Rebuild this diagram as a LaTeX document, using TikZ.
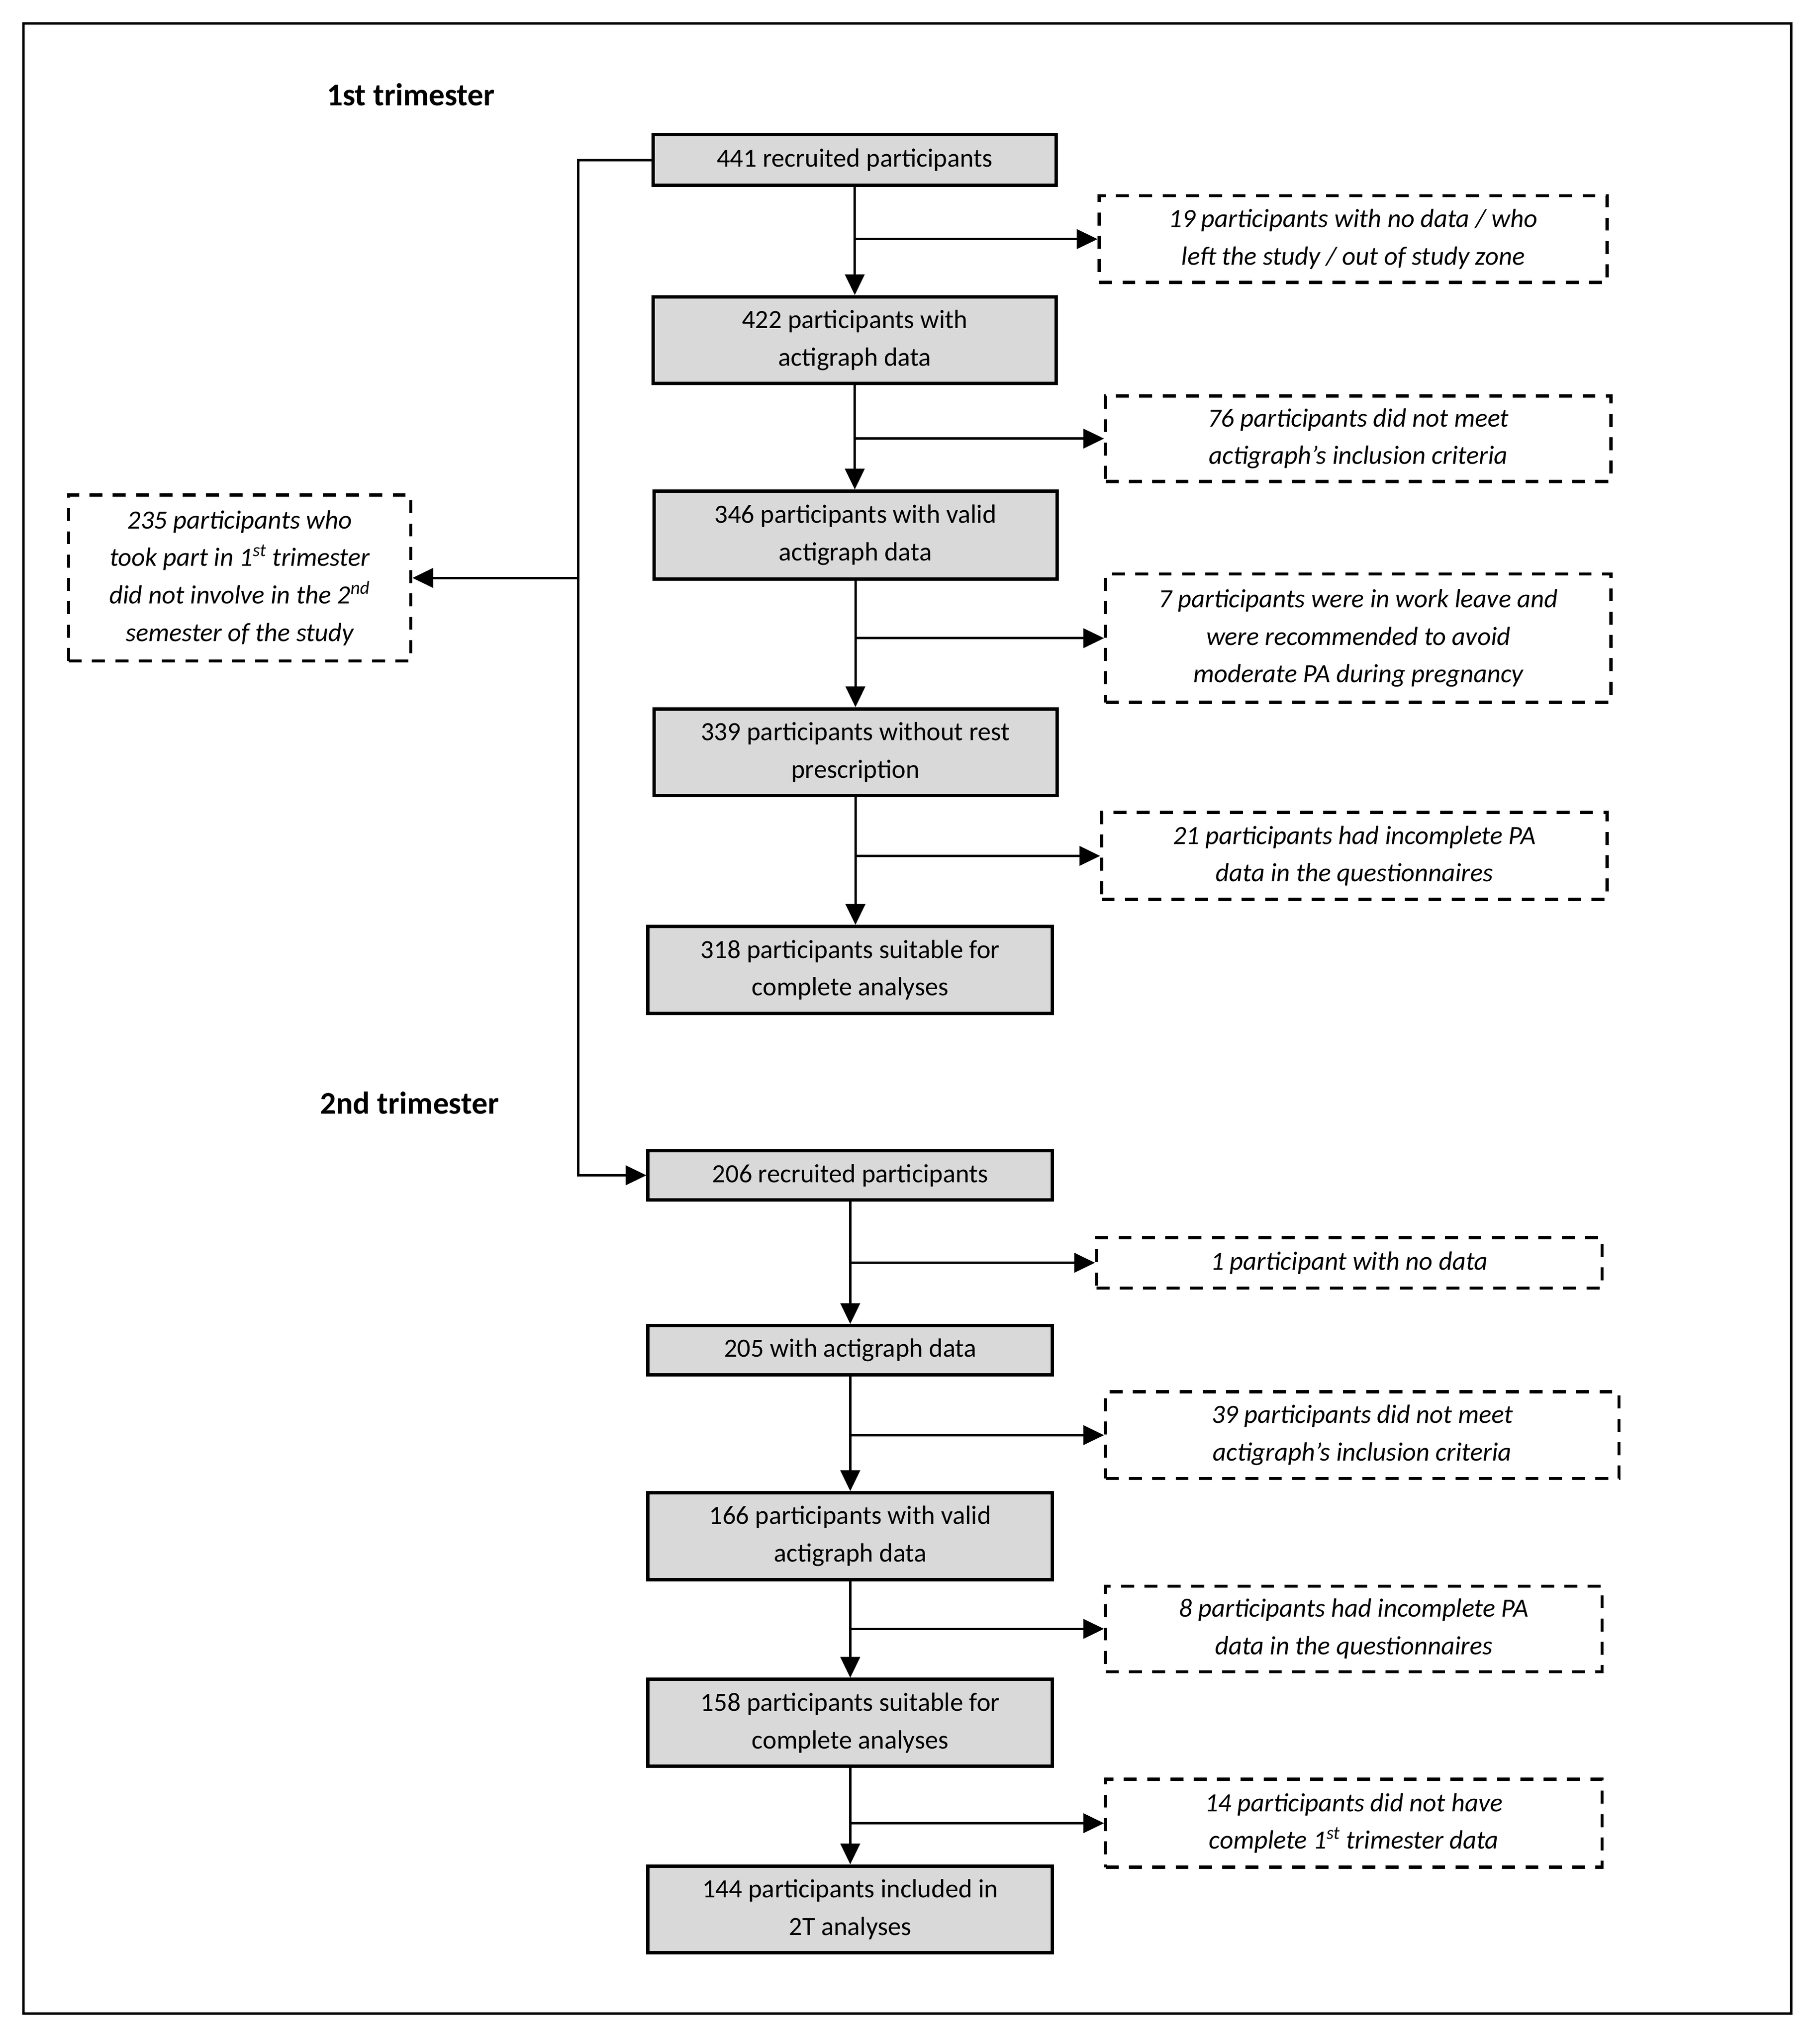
\documentclass[tikz,border=0pt]{standalone}
\usepackage{fontspec}
\setmainfont{Carlito}
\usetikzlibrary{arrows.meta}
\definecolor{boxgray}{HTML}{D9D9D9}
\begin{document}
\begin{tikzpicture}[x=1pt,y=-1pt,
  bodyfont/.style={font=\fontsize{20.3}{29}\selectfont},
  mainbox/.style={draw, line width=2.6pt, fill=boxgray, inner sep=0pt, align=center, bodyfont},
  dbox/.style={draw, line width=2.4pt, dash pattern=on 10pt off 8pt, fill=white, inner sep=0pt, align=center, font=\fontsize{20.3}{29}\selectfont\itshape},
  head/.style={font=\fontsize{24.4}{29}\selectfont\bfseries, inner sep=0pt},
  conn/.style={line width=1.8pt, -{Triangle[length=16pt,width=15pt]}},
  plain/.style={line width=1.8pt}
]
\useasboundingbox (0,0) rectangle (1404,1572);
\draw[line width=1.8pt] (18,18) rectangle (1382,1554);

\node[head] (h1) at (317,73) {1st trimester};
\node[head] (h2) at (316,851) {2nd trimester};

% main boxes, first trimester
\node[mainbox, minimum width=311pt, minimum height=39pt] (b1) at (659.5,123.5) {441 recruited participants};
\node[mainbox, minimum width=311pt, minimum height=67pt] (b2) at (659.5,262.5) {422 participants with\\actigraph data};
\node[mainbox, minimum width=311pt, minimum height=68pt] (b3) at (660,413) {346 participants with valid\\actigraph data};
\node[mainbox, minimum width=311pt, minimum height=67pt] (b4) at (660,580.5) {339 participants without rest\\prescription};
\node[mainbox, minimum width=312pt, minimum height=67pt] (b5) at (656,748.5) {318 participants suitable for\\complete analyses};
% second trimester
\node[mainbox, minimum width=312pt, minimum height=38pt] (b6) at (656,907) {206 recruited participants};
\node[mainbox, minimum width=312pt, minimum height=38pt] (b7) at (656,1042) {205 with actigraph data};
\node[mainbox, minimum width=312pt, minimum height=67pt] (b8) at (656,1185.5) {166 participants with valid\\actigraph data};
\node[mainbox, minimum width=312pt, minimum height=67pt] (b9) at (656,1329.5) {158 participants suitable for\\complete analyses};
\node[mainbox, minimum width=312pt, minimum height=67pt] (b10) at (656,1473.5) {144 participants included in\\2T analyses};

% dashed boxes
\node[dbox, minimum width=392pt, minimum height=67pt] (d1) at (1044,184.5) {19 participants with no data / who\\left the study / out of study zone};
\node[dbox, minimum width=390pt, minimum height=66pt] (d2) at (1048,338.5) {76 participants did not meet\\actigraph’s inclusion criteria};
\node[dbox, minimum width=390pt, minimum height=99pt] (d3) at (1048,492.5) {7 participants were in work leave and\\were recommended to avoid\\moderate PA during pregnancy};
\node[dbox, minimum width=390pt, minimum height=67pt] (d4) at (1045,660.5) {21 participants had incomplete PA\\data in the questionnaires};
\node[dbox, minimum width=264pt, minimum height=128pt] (d5) at (185,446) {235 participants who\\took part in 1\textsuperscript{st} trimester\\did not involve in the 2\textsuperscript{nd}\\semester of the study};
\node[dbox, minimum width=390pt, minimum height=39pt] (d6) at (1041,974.5) {1 participant with no data};
\node[dbox, minimum width=396pt, minimum height=67pt] (d7) at (1051,1107.5) {39 participants did not meet\\actigraph’s inclusion criteria};
\node[dbox, minimum width=383pt, minimum height=66pt] (d8) at (1044.5,1257) {8 participants had incomplete PA\\data in the questionnaires};
\node[dbox, minimum width=383pt, minimum height=68pt] (d9) at (1044.5,1407) {14 participants did not have\\complete 1\textsuperscript{st} trimester data};

% vertical flow
\draw[conn] (b1) -- (b2);
\draw[conn] (b2.south) -- (b2.south |- b3.north);
\draw[conn] (b3) -- (b4);
\draw[conn] (b4.south) -- (b4.south |- b5.north);
\draw[conn] (b6) -- (b7);
\draw[conn] (b7) -- (b8);
\draw[conn] (b8) -- (b9);
\draw[conn] (b9) -- (b10);

% branches
\draw[conn] (b1.south |- d1.west) -- (d1.west);
\draw[conn] (b2.south |- d2.west) -- (d2.west);
\draw[conn] (b3.south |- d3.west) -- (d3.west);
\draw[conn] (b4.south |- d4.west) -- (d4.west);
\draw[conn] (b6.south |- d6.west) -- (d6.west);
\draw[conn] (b7.south |- d7.west) -- (d7.west);
\draw[conn] (b8.south |- d8.west) -- (d8.west);
\draw[conn] (b9.south |- d9.west) -- (d9.west);

% loop to second trimester
\coordinate (lx) at (446,500);
\draw[conn] (b1.west) -- (b1.west -| lx) -- (b6.west -| lx) -- (b6.west);
\draw[conn] (d5.east -| lx) -- (d5.east);
\end{tikzpicture}
\end{document}
